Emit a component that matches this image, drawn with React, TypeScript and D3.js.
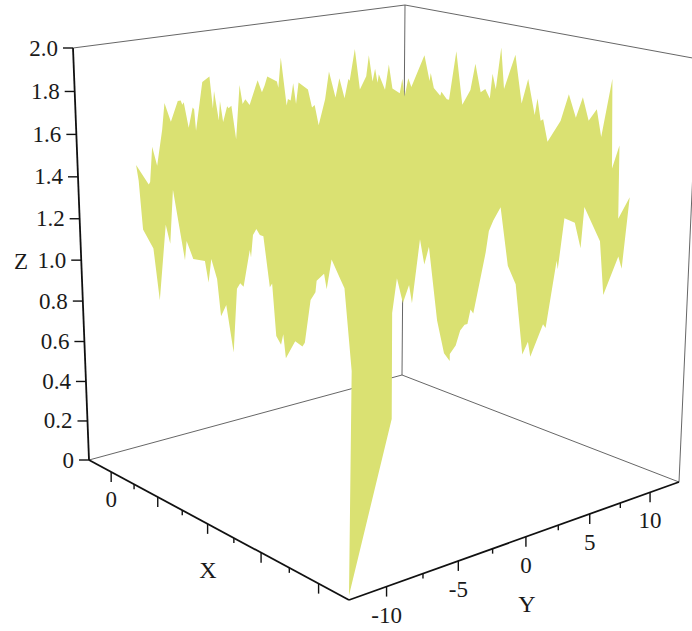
import React from "react";
import * as d3 from "d3";

// outline of the surface, one list per edge in axis units
const backLeftY = [-12.0,-11.2,-11.1,-10.9,-10.6,-10.2,-10.0,-9.6,-9.1,-8.9,-8.8,-8.7,-8.4,-8.1,-8.0,-7.9,-7.4,-6.9,-6.7,-6.6,-6.3,-6.2,-6.0,-5.7,-5.6,-5.4,-5.1,-4.8,-4.6,-4.4,-4.1,-3.5,-3.2,-3.0,-2.8,-2.1,-2.0,-1.8,-1.4,-1.3,-1.1,-0.9,-0.7,-0.5,0.2,0.5,0.7,1.0,1.5,1.8,2.3,2.6,3.0,3.3,3.4,3.8,4.2,4.7,4.9,5.2,5.4,5.6,5.7,6.2,6.5,6.8,7.4,7.6,7.8];
const backLeftZ = [1.53,1.43,1.44,1.60,1.51,1.67,1.79,1.70,1.79,1.79,1.77,1.78,1.66,1.75,1.74,1.64,1.86,1.88,1.73,1.81,1.67,1.76,1.66,1.73,1.72,1.73,1.57,1.82,1.73,1.75,1.72,1.83,1.77,1.80,1.84,1.81,1.78,1.92,1.69,1.72,1.71,1.79,1.69,1.79,1.75,1.66,1.67,1.57,1.69,1.82,1.69,1.78,1.68,1.77,1.76,1.91,1.71,1.77,1.87,1.74,1.80,1.73,1.77,1.69,1.81,1.69,1.66,1.73,1.64];
const backRightX = [3.1,3.4,4.6,5.1,5.2,5.5,6.1,6.2,6.7,6.9,7.5,8.1,8.8,9.2,9.7,10.1,10.5,10.7,11.0,11.4,11.7,12.6,13.2,13.7,14.3,14.5,14.8,15.0,15.4,16.4,17.0,17.6,18.1,18.6,19.2,19.6,20.3,20.5,21.0,21.1,21.9];
const backRightZ = [1.73,1.69,1.86,1.74,1.78,1.71,1.68,1.70,1.67,1.67,1.91,1.66,1.74,1.87,1.74,1.76,1.72,1.84,1.77,1.97,1.78,1.95,1.73,1.85,1.69,1.77,1.67,1.68,1.58,1.69,1.82,1.72,1.82,1.72,1.78,1.66,1.93,1.53,1.64,1.31,1.42];
const frontLeftX = [4.0,4.3,5.3,5.8,6.6,7.0,7.4,8.4,8.6,9.2,10.3,10.6,10.9,11.4,11.7,12.2,12.8,13.2,13.5,13.8,14.4,14.5,14.7,15.0,15.3,15.6,16.1,16.3,16.6,17.0,17.2,17.4,18.2,18.8,19.0,19.5,19.9,20.0,20.6,20.8,21.2,21.9,22.2];
const frontLeftZ = [1.48,1.26,1.19,0.96,1.32,1.24,1.49,1.19,1.28,1.21,1.22,1.13,1.24,1.16,1.00,1.06,0.86,1.15,1.18,1.17,1.34,1.31,1.41,1.44,1.42,1.42,1.21,1.23,1.01,0.98,1.03,0.93,1.02,1.01,1.03,1.22,1.26,1.31,1.35,1.29,1.42,1.35,1.32];
const frontRightY = [-12.3,-12.5,-9.7,-9.7,-9.4,-9.0,-8.6,-8.4,-7.9,-7.6,-7.3,-6.7,-6.4,-6.2,-5.8,-5.8,-5.4,-5.1,-4.8,-4.6,-4.4,-4.2,-3.4,-3.2,-2.9,-2.4,-1.8,-1.2,-0.6,-0.2,0.0,0.9,1.1,1.8,1.9,2.3,3.1,3.6,3.8,5.1,5.5,6.6,6.9];
const frontRightZ = [0.98,0.02,0.73,1.18,1.32,1.21,1.28,1.20,1.46,1.35,1.42,1.10,1.01,0.95,0.91,0.94,0.97,1.03,1.05,1.05,1.11,1.09,1.34,1.43,1.47,1.52,1.26,1.17,0.85,0.90,0.83,0.96,0.94,1.23,1.19,1.41,1.38,1.26,1.44,1.27,1.02,1.18,1.12];

// surface footprint
const xEdgeBack = 3;
const yEdgeBack = 8;
const xEdgeFront = 22.5;
const yEdgeFront = -12.5;

const xExtent = [-2.5, 22.5];
const yExtent = [-12.5, 12.5];
const zExtent = [0, 2];
const zTicks = [0, 0.2, 0.4, 0.6, 0.8, 1.0, 1.2, 1.4, 1.6, 1.8, 2.0];
const xMajor = [0, 5, 10, 15, 20];
const xMinor = [2.5, 7.5, 12.5, 17.5];
const xLabels = [0];
const yMajor = [-10, -5, 0, 5, 10];
const yMinor = [-7.5, -2.5, 2.5, 7.5];

const SERIF = "'Liberation Serif', 'Times New Roman', serif";
const FILL = "#dae172";

// box corners on the page, floor then lid
const floorCorners = [[89, 460], [349, 600], [679, 482], [402, 375]];
const lidCorners = [[73, 48], [348, 120], [698, 59], [405, 5]];

// unit square to quad, the perspective of the box
function quadMap(c: number[][]) {
  const [p0, p1, p2, p3] = c;
  const dx1 = p1[0] - p2[0], dx2 = p3[0] - p2[0], sx = p0[0] - p1[0] + p2[0] - p3[0];
  const dy1 = p1[1] - p2[1], dy2 = p3[1] - p2[1], sy = p0[1] - p1[1] + p2[1] - p3[1];
  const den = dx1 * dy2 - dx2 * dy1;
  const g = (sx * dy2 - dx2 * sy) / den, h = (dx1 * sy - sx * dy1) / den;
  const a = p1[0] - p0[0] + g * p1[0], b = p3[0] - p0[0] + h * p3[0];
  const d = p1[1] - p0[1] + g * p1[1], e = p3[1] - p0[1] + h * p3[1];
  return (u: number, v: number): [number, number] => {
    const w = g * u + h * v + 1;
    return [(a * u + b * v + p0[0]) / w, (d * u + e * v + p0[1]) / w];
  };
}

const floorMap = quadMap(floorCorners);
const lidMap = quadMap(lidCorners);
const uScale = d3.scaleLinear().domain(xExtent).range([0, 1]);
const vScale = d3.scaleLinear().domain(yExtent).range([0, 1]);
const hScale = d3.scaleLinear().domain(zExtent).range([0, 1]);

function project(x: number, y: number, z: number): [number, number] {
  const u = uScale(x), v = vScale(y), h = hScale(z);
  const f = (0.942 * h) / (1 - 0.058 * h);
  const p = floorMap(u, v), q = lidMap(u, v);
  return [p[0] + (q[0] - p[0]) * f, p[1] + (q[1] - p[1]) * f];
}

const [x0, x1] = xExtent;
const [y0, y1] = yExtent;
const [z0, z1] = zExtent;
const path = d3.line();

const outline: [number, number][] = [
  ...backLeftY.map((y, i) => project(xEdgeBack, y, backLeftZ[i])),
  ...backRightX.map((x, i) => project(x, yEdgeBack, backRightZ[i])),
  ...frontRightY.map((y, i) => project(xEdgeFront, y, frontRightZ[i])).reverse(),
  ...frontLeftX.map((x, i) => project(x, yEdgeFront, frontLeftZ[i])).reverse(),
];

const boxEdges = [
  [project(x0, y0, z1), project(x0, y1, z1)],
  [project(x0, y1, z1), project(x1, y1, z1)],
  [project(x0, y1, z0), project(x0, y1, z1)],
  [project(x1, y1, z0), project(x1, y1, z1)],
  [project(x0, y0, z0), project(x0, y1, z0)],
  [project(x0, y1, z0), project(x1, y1, z0)],
];
const axisEdges = [
  [project(x0, y0, z0), project(x0, y0, z1)],
  [project(x0, y0, z0), project(x1, y0, z0)],
  [project(x1, y0, z0), project(x1, y1, z0)],
];

export default function App() {
  return (
    <svg width={692} height={631} style={{ position: "absolute", left: 0, top: 0 }} fontFamily={SERIF} fill="#1a1a1a">
      <g fill="none" stroke="#555" strokeWidth={0.9}>
        {boxEdges.map((e, i) => <path key={i} d={path(e) as string} />)}
      </g>
      <path d={(path(outline) as string) + "Z"} fill={FILL} />
      <g fill="none" stroke="#111" strokeWidth={1.8}>
        {axisEdges.map((e, i) => <path key={i} d={path(e) as string} />)}
      </g>
      {zTicks.map((t) => {
        const [px, py] = project(x0, y0, t);
        return (
          <g key={t}>
            <line x1={px - 10} x2={px} y1={py} y2={py} stroke="#111" strokeWidth={1.4} />
            <text x={px - 15} y={py + 7.5} fontSize={23} textAnchor="end">{t === 0 ? "0" : t.toFixed(1)}</text>
          </g>
        );
      })}
      {xMajor.map((t) => {
        const [px, py] = project(t, y0, z0);
        return <line key={t} x1={px} x2={px} y1={py} y2={py + 10} stroke="#111" strokeWidth={1.4} />;
      })}
      {xMinor.map((t) => {
        const [px, py] = project(t, y0, z0);
        return <line key={t} x1={px} x2={px} y1={py} y2={py + 5} stroke="#111" strokeWidth={1.4} />;
      })}
      {xLabels.map((t) => {
        const [px, py] = project(t, y0, z0);
        return <text key={t} x={px} y={py + 35} fontSize={23} textAnchor="middle">{t}</text>;
      })}
      {yMajor.map((t) => {
        const [px, py] = project(x1, t, z0);
        return (
          <g key={t}>
            <line x1={px} x2={px} y1={py} y2={py + 10} stroke="#111" strokeWidth={1.4} />
            <text x={px} y={py + 36} fontSize={23} textAnchor="middle">{t}</text>
          </g>
        );
      })}
      {yMinor.map((t) => {
        const [px, py] = project(x1, t, z0);
        return <line key={t} x1={px} x2={px} y1={py} y2={py + 5} stroke="#111" strokeWidth={1.4} />;
      })}
      <text x={21} y={269} fontSize={23} textAnchor="middle">Z</text>
      <text x={208} y={578} fontSize={24} textAnchor="middle">X</text>
      <text x={527} y={612} fontSize={24} textAnchor="middle">Y</text>
    </svg>
  );
}
